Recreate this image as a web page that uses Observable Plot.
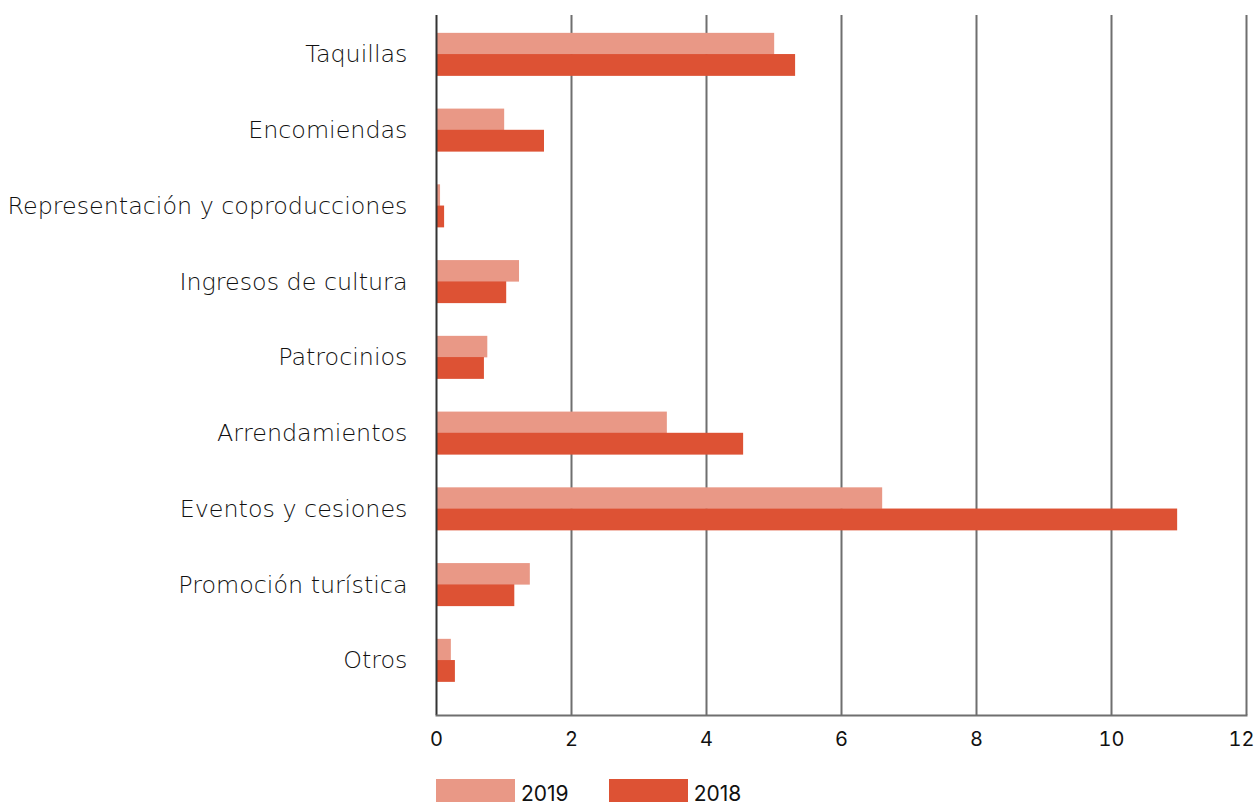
<!DOCTYPE html>
<html>
<head>
<meta charset="utf-8">
<script src="https://cdn.jsdelivr.net/npm/d3@7"></script>
<script src="https://cdn.jsdelivr.net/npm/@observablehq/plot@0.6"></script>
<style>
  html, body { margin: 0; padding: 0; background: #fff; }
  #chart svg { display: block; overflow: visible; }
  .legend { display: flex; align-items: flex-end; margin-left: 436px; margin-top: 19px; font-family: Inter, "Open Sans", sans-serif; font-weight: 400; font-size: 21px; color: #111; }
  .legend .sw { display: inline-block; width: 79px; height: 23px; margin-right: 6px; }
  .legend .item { display: flex; align-items: flex-end; margin-right: 40px; line-height: 17px; }
</style>
</head>
<body>
<div id="chart"></div>
<div class="legend" id="legend"></div>
<script>
const categories = ["Taquillas","Encomiendas","Representación y coproducciones","Ingresos de cultura","Patrocinios","Arrendamientos","Eventos y cesiones","Promoción turística","Otros"];
const values2019 = [5.01, 1.01, 0.06, 1.23, 0.76, 3.42, 6.61, 1.39, 0.22];
const values2018 = [5.32, 1.60, 0.12, 1.04, 0.71, 4.55, 10.98, 1.16, 0.28];
const years = ["2019", "2018"];
const colors = ["#E99886", "#DD5234"];
const xTicks = [0, 2, 4, 6, 8, 10, 12];

const data2019 = categories.map((c, i) => ({category: c, value: values2019[i]}));
const data2018 = categories.map((c, i) => ({category: c, value: values2018[i]}));

const chart = Plot.plot({
  width: 1254,
  height: 760,
  marginLeft: 436,
  marginRight: 8,
  marginTop: 15,
  marginBottom: 45,
  style: {fontFamily: 'Inter, "Open Sans", sans-serif', color: "#222", background: "#fff"},
  x: {domain: [0, 12]},
  y: {type: "band", domain: categories, paddingInner: 0.432, paddingOuter: 0.3365, align: 0.35, round: false},
  marks: [
    Plot.ruleX(xTicks.filter(d => d > 0), {stroke: "#6f6f6f", strokeWidth: 2}),
    Plot.barX(data2019, {x: "value", y: "category", fill: colors[0], insetBottom: 21.5}),
    Plot.barX(data2018, {x: "value", y: "category", fill: colors[1], insetTop: 21.2}),
    Plot.ruleX([0], {stroke: "#333", strokeWidth: 2}),
    Plot.frame({anchor: "bottom", stroke: "#6f6f6f", strokeWidth: 2}),
    Plot.axisX({ticks: xTicks.slice(0, -1), tickSize: 0, tickPadding: 16, fontSize: 20, fill: "#111", fontWeight: 400, label: null}),
    Plot.axisX({ticks: xTicks.slice(-1), tickSize: 0, tickPadding: 16, fontSize: 20, fill: "#111", fontWeight: 400, label: null, dx: -5}),
    Plot.axisY({tickSize: 0, tickPadding: 29, fontSize: 23.8, fill: "#111", label: null, dy: 0, fontFamily: '"DejaVu Sans", sans-serif', fontWeight: 200})
  ]
});
document.getElementById("chart").appendChild(chart);

const legend = document.getElementById("legend");
years.forEach((y, i) => {
  const item = document.createElement("div");
  item.className = "item";
  const sw = document.createElement("span");
  sw.className = "sw";
  sw.style.background = colors[i];
  const t = document.createElement("span");
  t.textContent = y;
  item.appendChild(sw);
  item.appendChild(t);
  legend.appendChild(item);
});
</script>
</body>
</html>
